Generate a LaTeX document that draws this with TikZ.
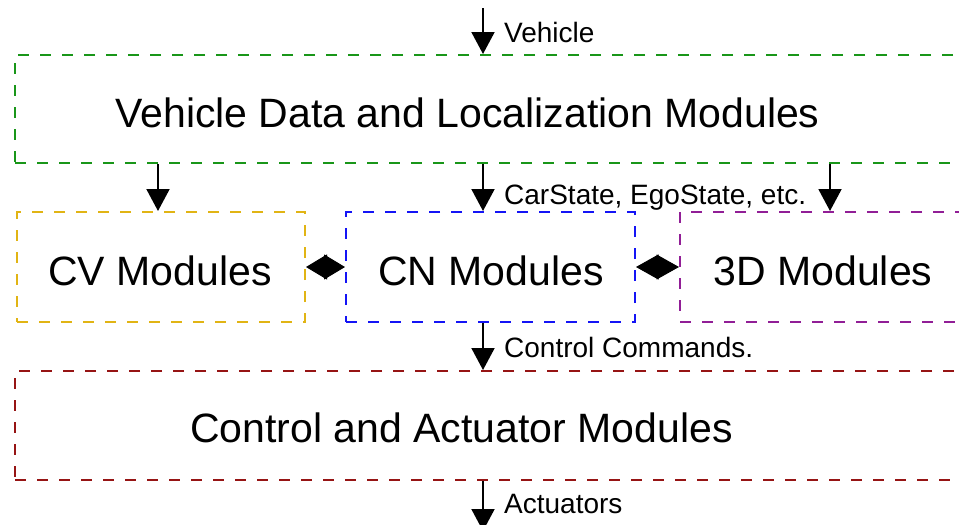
\documentclass[tikz,border=0pt]{standalone}
\usepackage{fontspec}
\setmainfont{Liberation Sans}
\usetikzlibrary{arrows.meta,calc}
\definecolor{vgreen}{RGB}{25,150,25}
\definecolor{cvgold}{RGB}{225,180,20}
\definecolor{cnblue}{RGB}{20,20,245}
\definecolor{tdpurple}{RGB}{145,30,150}
\definecolor{ctred}{RGB}{150,20,20}
\begin{document}
\begin{tikzpicture}[x=1pt,y=-1pt,
  modbox/.style={draw, rectangle, dash pattern=on 11pt off 11pt, line width=2pt, inner sep=0pt},
  bigtext/.style={font=\fontsize{41}{48}\selectfont, inner sep=0pt, anchor=base},
  smalltext/.style={font=\fontsize{28}{32}\selectfont, inner sep=0pt, anchor=base west},
  flow/.style={line width=2pt, -{Triangle[width=23pt,length=22pt]}},
  link/.style={line width=1pt, {Triangle[width=25pt,length=#1]}-{Triangle[width=25pt,length=#1]}}]
\useasboundingbox (0,0) rectangle (959,525);

% module boxes (the wide ones run past the right edge)
\node[modbox, vgreen, minimum width=965pt, minimum height=108pt] (veh) at (497.5,109) {};
\node[modbox, cvgold, minimum width=288pt, minimum height=110pt] (cv) at (161,267) {};
\node[modbox, cnblue, minimum width=289pt, minimum height=110pt] (cn) at (490.5,267) {};
\node[modbox, tdpurple, minimum width=286pt, minimum height=110pt] (td) at (823,267) {};
\node[modbox, ctred, minimum width=965pt, minimum height=109pt] (ctl) at (497.5,425.5) {};

% box titles
\node[bigtext] (vehT) at (467.5,127) {Vehicle Data and Localization Modules};
\node[bigtext] (cvT) at (160,285) {CV Modules};
\node[bigtext] (cnT) at (491,285) {CN Modules};
\node[bigtext] (tdT) at (823,285) {3D Modules};
\node[bigtext] (ctlT) at (461.5,442) {Control and Actuator Modules};

% arrow columns
\coordinate (vin) at (483,8);
\coordinate (xcv) at (158,0);
\coordinate (xmid) at (483,0);
\coordinate (xtd) at (830,0);
\coordinate (aout) at (483,531);

% data flow
\draw[flow] (vin) -- (vin |- veh.north);
\draw[flow] (xcv |- veh.south) -- (xcv |- cv.north);
\draw[flow] (xmid |- veh.south) -- (xmid |- cn.north);
\draw[flow] (xtd |- veh.south) -- (xtd |- td.north);
\draw[flow] (xmid |- cn.south) -- (xmid |- ctl.north);
\draw[flow] (xmid |- ctl.south) -- (aout);

% links between the middle modules
\draw[link=21pt] (cv.east) -- (cn.west);
\draw[link=22.5pt] (cn.east) -- (td.west);

% flow labels
\node[smalltext] (lveh) at (504,42) {Vehicle};
\node[smalltext] (lstate) at (504,204) {CarState, EgoState, etc.};
\node[smalltext] (lcmd) at (504,357) {Control Commands.};
\node[smalltext] (lact) at (504,513) {Actuators};
\end{tikzpicture}
\end{document}
